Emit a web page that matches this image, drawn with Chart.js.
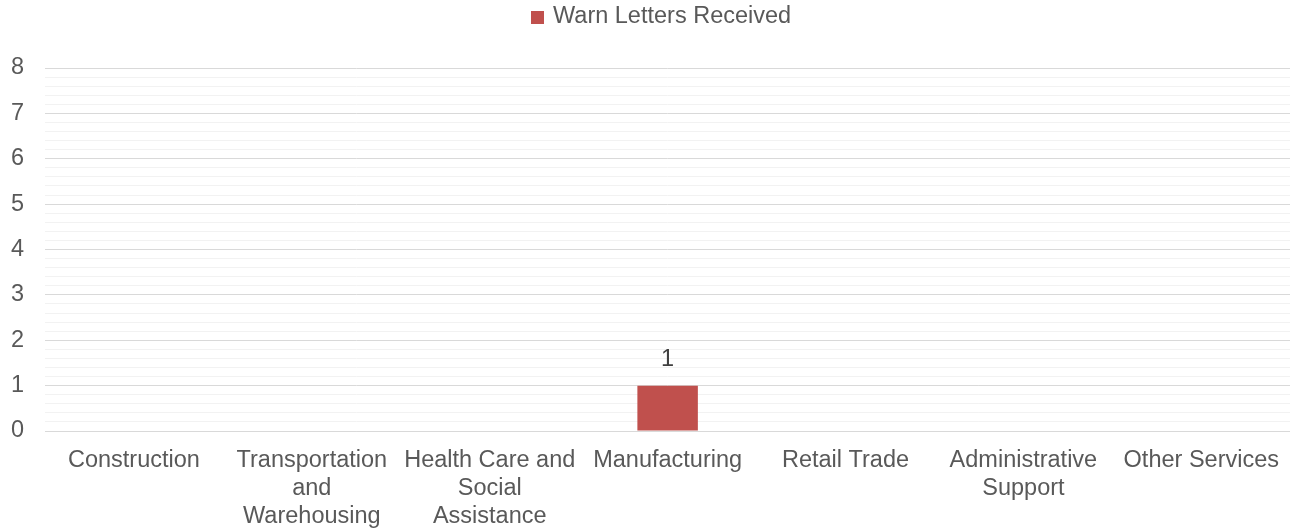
<!DOCTYPE html>
<html>
<head>
<meta charset="utf-8">
<script src="https://cdn.jsdelivr.net/npm/chart.js@4"></script>
<style>
	html, body { margin: 0; padding: 0; background: #fff; overflow: hidden; }
	#barCanvas { display: block; }
</style>
</head>
<body>
<canvas id="barCanvas" width="1294" height="529"></canvas>
<script>

// 업종 이름 (줄바꿈은 배열로)
var industries = [
	"Construction",
	["Transportation", "and", "Warehousing"],
	["Health Care and", "Social", "Assistance"],
	"Manufacturing",
	"Retail Trade",
	["Administrative", "Support"],
	"Other Services"
];

var warnLetters = [0, 0, 0, 1, 0, 0, 0];	// 받은 WARN 통지 수

var seriesName = "Warn Letters Received";

var yMax = 8;

var FONT = "'Liberation Sans', Arial, sans-serif";
var barColor = "#C0504D";


// 막대 위에 값 출력
var valueLabels = {
	id: 'valueLabels',
	afterDatasetsDraw: function(chart) {
		var ctx = chart.ctx;
		var meta = chart.getDatasetMeta(0);
		ctx.save();
		ctx.font = "23.5px " + FONT;
		ctx.fillStyle = "#404040";
		ctx.textAlign = "center";
		ctx.textBaseline = "middle";
		meta.data.forEach(function(bar, i) {
			var v = chart.data.datasets[0].data[i];
			if (v > 0) {
				ctx.fillText(v, bar.x, bar.y - 26);
			}
		});
		ctx.restore();
	}
};

// 상단 범례 (작은 사각형 + 이름)
var topLegend = {
	id: 'topLegend',
	afterDraw: function(chart) {
		var ctx = chart.ctx;
		ctx.save();
		ctx.font = "23.5px " + FONT;
		var tw = ctx.measureText(seriesName).width;
		var total = 14 + 8 + tw;
		var x0 = Math.round((1290 - total) / 2) + 16;
		ctx.fillStyle = barColor;
		ctx.fillRect(x0, 11, 13, 13);
		ctx.fillStyle = "#595959";
		ctx.textAlign = "left";
		ctx.textBaseline = "middle";
		ctx.fillText(seriesName, x0 + 22, 17);
		ctx.restore();
	}
};

function barChart() {

	var ctx = document.getElementById("barCanvas").getContext("2d");

	Chart.defaults.font.family = FONT;
	Chart.defaults.font.size = 23.5;
	Chart.defaults.color = "#595959";

	var data = {
		labels: industries,
		datasets: [
			{
				label: seriesName,
				data: warnLetters,
				backgroundColor: barColor,
				borderWidth: 0,
				barPercentage: 0.34,
				categoryPercentage: 1.0
			}
		]
	};

	var options = {
		responsive: false,
		animation: false,
		layout: {
			padding: { left: 0, right: 0, top: 68, bottom: 0 }
		},
		plugins: {
			legend: { display: false },
			tooltip: { enabled: false }
		},
		scales: {
			x: {
				afterFit: function(axis) { axis.height = 98; },
				grid: { display: false, drawTicks: false },
				border: { color: "#d9d9d9", width: 1 },
				ticks: {
					maxRotation: 0,
					autoSkip: false,
					padding: 15,
					color: "#595959"
				}
			},
			y: {
				min: 0,
				max: yMax,
				border: { display: false },
				afterFit: function(axis) { axis.width = 45; },
				grid: {
					drawTicks: false,
					color: function(c) {
						var v = c.tick.value;
						return Math.abs(v - Math.round(v)) < 1e-6 ? "#d9d9d9" : "#f2f2f2";
					},
					lineWidth: 1
				},
				ticks: {
					stepSize: 0.2,
					maxTicksLimit: 100,
					autoSkip: false,
					padding: 21,
					color: "#595959",
					// 정수만 숫자 표시, 나머지는 보조 눈금선만
					callback: function(v) {
						return Math.abs(v - Math.round(v)) < 1e-6 ? String(Math.round(v)) : '';
					}
				}
			}
		}
	};

	new Chart(ctx, {
		type: 'bar',
		data: data,
		options: options,
		plugins: [valueLabels, topLegend]
	});
}

barChart();
</script>
</body>
</html>
